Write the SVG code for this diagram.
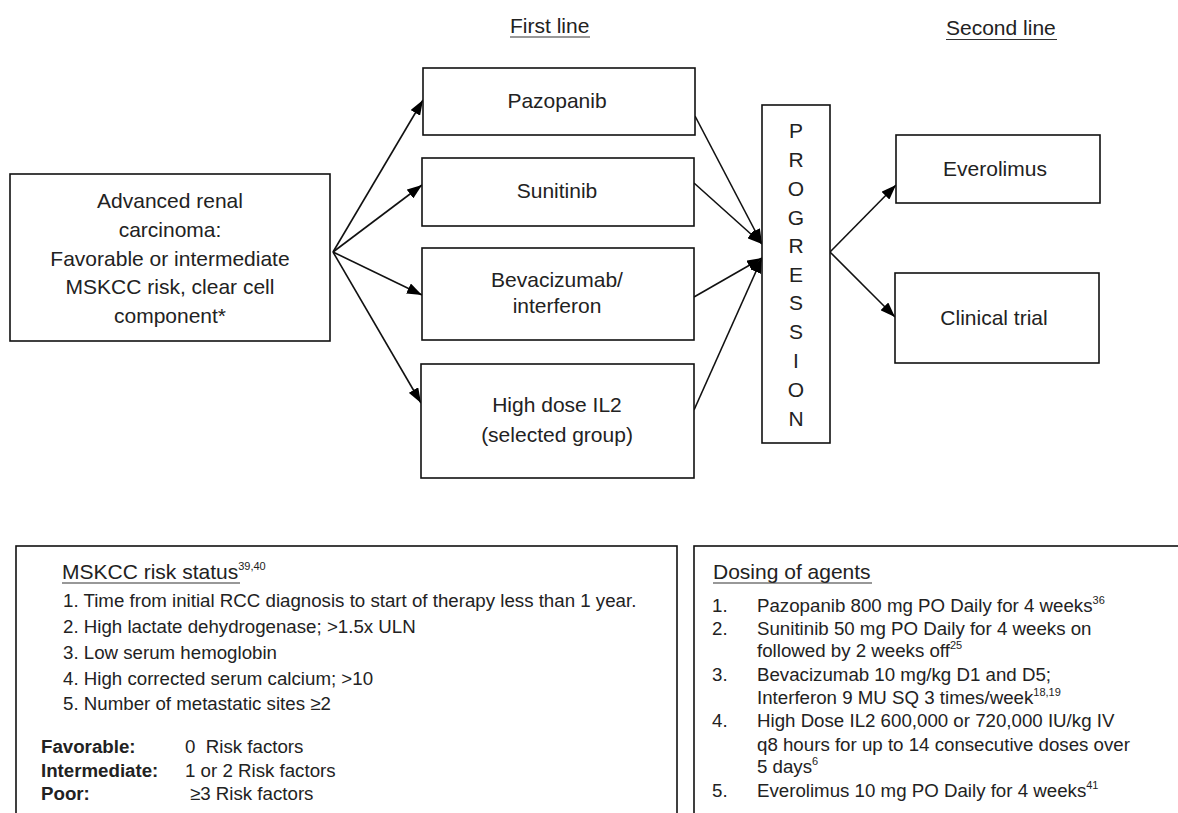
<svg xmlns="http://www.w3.org/2000/svg" width="1178" height="813" viewBox="0 0 1178 813">
<style>
text{font-family:"Liberation Sans",Arial,sans-serif;fill:#222}
.lbl{font-size:21px;text-anchor:middle}
.hd{font-size:21px}
.sm{font-size:18.7px}
.b{font-weight:bold}
.sup{font-size:11px}
.box{fill:#fff;stroke:#111;stroke-width:1.6}
.ln{stroke:#111;stroke-width:1.6;fill:none}
.ul{stroke:#333;stroke-width:1.2}
</style>
<defs>
<marker id="ah" viewBox="0 0 15 11" refX="15" refY="5.5" markerWidth="15" markerHeight="11" markerUnits="userSpaceOnUse" orient="auto">
<path d="M0,0 L15,5.5 L0,11 z" fill="#000"/>
</marker>
</defs>

<g id="titles">
<text class="hd" x="510" y="33">First line</text>
<line class="ul" x1="510" y1="37" x2="590" y2="37"/>
<text class="hd" x="946" y="35">Second line</text>
<line class="ul" x1="946" y1="39.5" x2="1057" y2="39.5"/>
</g>

<g id="connectors">
<line class="ln" x1="333" y1="252" x2="423" y2="100" marker-end="url(#ah)"/>
<line class="ln" x1="333" y1="252" x2="422" y2="185" marker-end="url(#ah)"/>
<line class="ln" x1="333" y1="252" x2="422" y2="295" marker-end="url(#ah)"/>
<line class="ln" x1="333" y1="252" x2="421" y2="403" marker-end="url(#ah)"/>
<line class="ln" x1="695" y1="116" x2="762" y2="244" marker-end="url(#ah)"/>
<line class="ln" x1="694" y1="183" x2="762" y2="244" marker-end="url(#ah)"/>
<line class="ln" x1="694" y1="297" x2="762" y2="258" marker-end="url(#ah)"/>
<line class="ln" x1="694" y1="410" x2="762" y2="258" marker-end="url(#ah)"/>
<line class="ln" x1="830" y1="252" x2="896" y2="185" marker-end="url(#ah)"/>
<line class="ln" x1="830" y1="252" x2="895" y2="317" marker-end="url(#ah)"/>
</g>

<g id="advanced">
<rect class="box" x="10" y="174" width="320" height="167"/>
<text class="lbl" x="170" y="208">Advanced renal</text>
<text class="lbl" x="170" y="237">carcinoma:</text>
<text class="lbl" x="170" y="265.5">Favorable or intermediate</text>
<text class="lbl" x="170" y="294">MSKCC risk, clear cell</text>
<text class="lbl" x="170" y="323">component*</text>
</g>

<g id="pazopanib">
<rect class="box" x="423" y="68" width="272" height="67"/>
<text class="lbl" x="557" y="108">Pazopanib</text>
</g>
<g id="sunitinib">
<rect class="box" x="422" y="158" width="272" height="68"/>
<text class="lbl" x="557" y="198">Sunitinib</text>
</g>
<g id="bevacizumab">
<rect class="box" x="422" y="248" width="272" height="92"/>
<text class="lbl" x="557" y="287">Bevacizumab/</text>
<text class="lbl" x="557" y="313">interferon</text>
</g>
<g id="il2">
<rect class="box" x="421" y="364" width="273" height="114"/>
<text class="lbl" x="557" y="412">High dose IL2</text>
<text class="lbl" x="557" y="442">(selected group)</text>
</g>

<g id="progression">
<rect class="box" x="762" y="105" width="68" height="338"/>
<text class="lbl" x="796" y="138">P</text>
<text class="lbl" x="796" y="167">R</text>
<text class="lbl" x="796" y="196">O</text>
<text class="lbl" x="796" y="225">G</text>
<text class="lbl" x="796" y="253">R</text>
<text class="lbl" x="796" y="282">E</text>
<text class="lbl" x="796" y="310">S</text>
<text class="lbl" x="796" y="339">S</text>
<text class="lbl" x="796" y="368">I</text>
<text class="lbl" x="796" y="397">O</text>
<text class="lbl" x="796" y="426">N</text>
</g>

<g id="everolimus">
<rect class="box" x="896" y="135" width="204" height="68"/>
<text class="lbl" x="995" y="176">Everolimus</text>
</g>
<g id="clinical">
<rect class="box" x="895" y="273" width="204" height="90"/>
<text class="lbl" x="994" y="325">Clinical trial</text>
</g>

<g id="mskcc">
<rect class="box" x="16" y="546" width="661" height="280"/>
<text class="hd" x="62" y="579">MSKCC risk status<tspan class="sup" dy="-9">39,40</tspan></text>
<line class="ul" x1="62" y1="583" x2="240" y2="583"/>
<text class="sm" x="63" y="607">1. Time from initial RCC diagnosis to start of therapy less than 1 year.</text>
<text class="sm" x="63" y="633">2. High lactate dehydrogenase; &gt;1.5x ULN</text>
<text class="sm" x="63" y="659">3. Low serum hemoglobin</text>
<text class="sm" x="63" y="685">4. High corrected serum calcium; &gt;10</text>
<text class="sm" x="63" y="710">5. Number of metastatic sites ≥2</text>
<text class="sm b" x="41" y="753">Favorable:</text>
<text class="sm" x="185" y="753">0&#160; Risk factors</text>
<text class="sm b" x="41" y="777">Intermediate:</text>
<text class="sm" x="185" y="777">1 or 2 Risk factors</text>
<text class="sm b" x="41" y="800">Poor:</text>
<text class="sm" x="190" y="800">≥3 Risk factors</text>
</g>

<g id="dosing">
<rect class="box" x="694" y="546" width="500" height="280"/>
<text class="hd" x="713" y="579">Dosing of agents</text>
<line class="ul" x1="713" y1="583" x2="872" y2="583"/>
<text class="sm" x="712" y="612">1.</text>
<text class="sm" x="757" y="612">Pazopanib 800 mg PO Daily for 4 weeks<tspan class="sup" dy="-8">36</tspan></text>
<text class="sm" x="712" y="635">2.</text>
<text class="sm" x="757" y="635">Sunitinib 50 mg PO Daily for 4 weeks on</text>
<text class="sm" x="757" y="657">followed by 2 weeks off<tspan class="sup" dy="-8">25</tspan></text>
<text class="sm" x="712" y="681">3.</text>
<text class="sm" x="757" y="681">Bevacizumab 10 mg/kg D1 and D5;</text>
<text class="sm" x="757" y="704">Interferon 9 MU SQ 3 times/week<tspan class="sup" dy="-8">18,19</tspan></text>
<text class="sm" x="712" y="727">4.</text>
<text class="sm" x="757" y="727">High Dose IL2 600,000 or 720,000 IU/kg IV</text>
<text class="sm" x="757" y="751">q8 hours for up to 14 consecutive doses over</text>
<text class="sm" x="757" y="773">5 days<tspan class="sup" dy="-8">6</tspan></text>
<text class="sm" x="712" y="797">5.</text>
<text class="sm" x="757" y="797">Everolimus 10 mg PO Daily for 4 weeks<tspan class="sup" dy="-8">41</tspan></text>
</g>
</svg>
